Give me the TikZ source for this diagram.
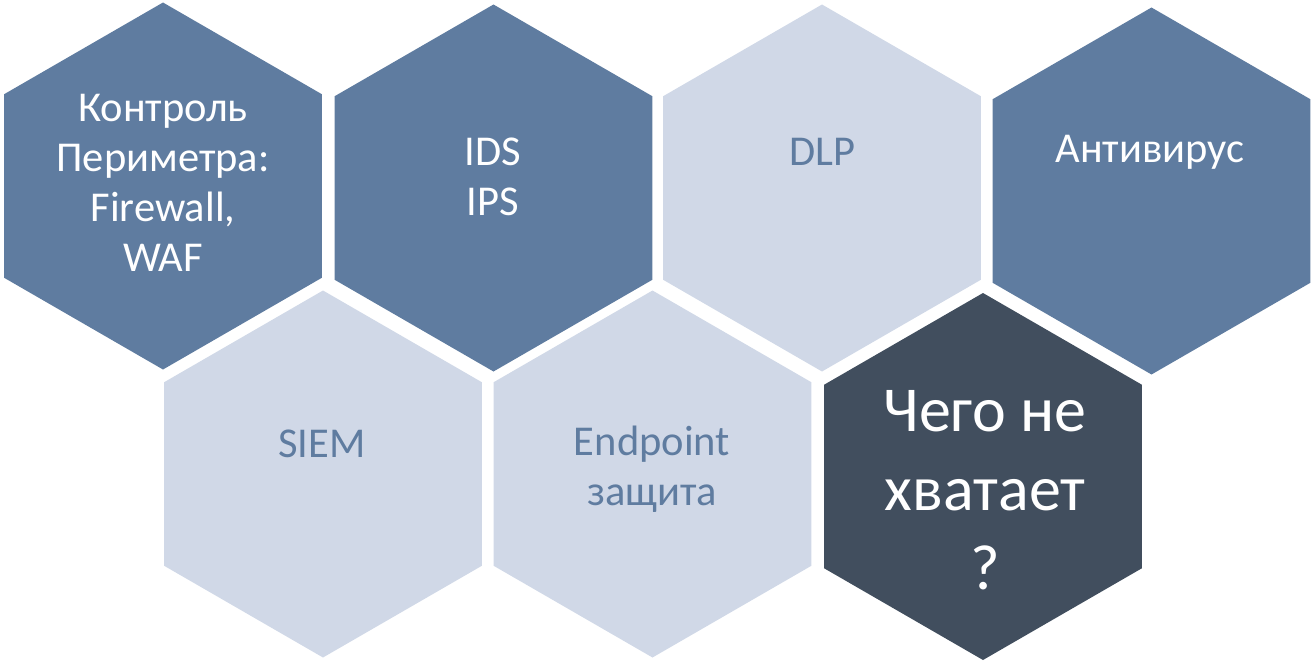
\documentclass[tikz,border=0pt]{standalone}
\usepackage{fontspec}
\setmainfont{Carlito}
\usetikzlibrary{shapes.geometric}
\definecolor{hexmid}{HTML}{5F7CA0}
\definecolor{hexlight}{HTML}{D0D8E7}
\definecolor{hexdark}{HTML}{414E5E}
\tikzset{
  hexbox/.style={regular polygon, regular polygon sides=6, shape border rotate=30,
    minimum size=367pt, inner sep=0pt, outer sep=0pt, draw=none},
  hexmidbox/.style={hexbox, fill=hexmid},
  hexlightbox/.style={hexbox, fill=hexlight},
  hexdarkbox/.style={hexbox, fill=hexdark},
  lbl/.style={align=center, font=\fontsize{42.5}{50}\selectfont, inner sep=0pt},
  lblwhite/.style={lbl, text=white},
  lblblue/.style={lbl, text=hexmid},
  lblbig/.style={align=center, font=\fontsize{64}{79}\selectfont, inner sep=0pt, text=white}
}
\begin{document}
\begin{tikzpicture}[x=1pt, y=-1pt]
  \useasboundingbox (0,0) rectangle (1312,661);
  % upper row
  \node[hexmidbox]   (perim) at (163,186) {};
  \node[hexmidbox]   (ids)   at (493.5,188) {};
  \node[hexlightbox] (dlp)   at (822,188) {};
  \node[hexmidbox]   (av)    at (1151.5,191) {};
  % lower row
  \node[hexlightbox] (siem)  at (323,474) {};
  \node[hexlightbox] (endp)  at (652.5,474) {};
  \node[hexdarkbox]  (miss)  at (983,476.5) {};
  % captions
  \node[lblwhite] (perimtxt) at (163,183) {Контроль\\Периметра:\\Firewall,\\WAF};
  \node[lblwhite] (idstxt)   at (493,177) {IDS\\IPS};
  \node[lblblue]  (dlptxt)   at (822,152) {DLP};
  \node[lblwhite] (avtxt)    at (1150,152) {Антивирус};
  \node[lblblue]  (siemtxt)  at (322,444) {SIEM};
  \node[lblblue]  (endptxt)  at (652,469) {Endpoint\\защита};
  \node[lblbig]   (misstxt)  at (985,490) {Чего не\\хватает\\?};
\end{tikzpicture}
\end{document}
